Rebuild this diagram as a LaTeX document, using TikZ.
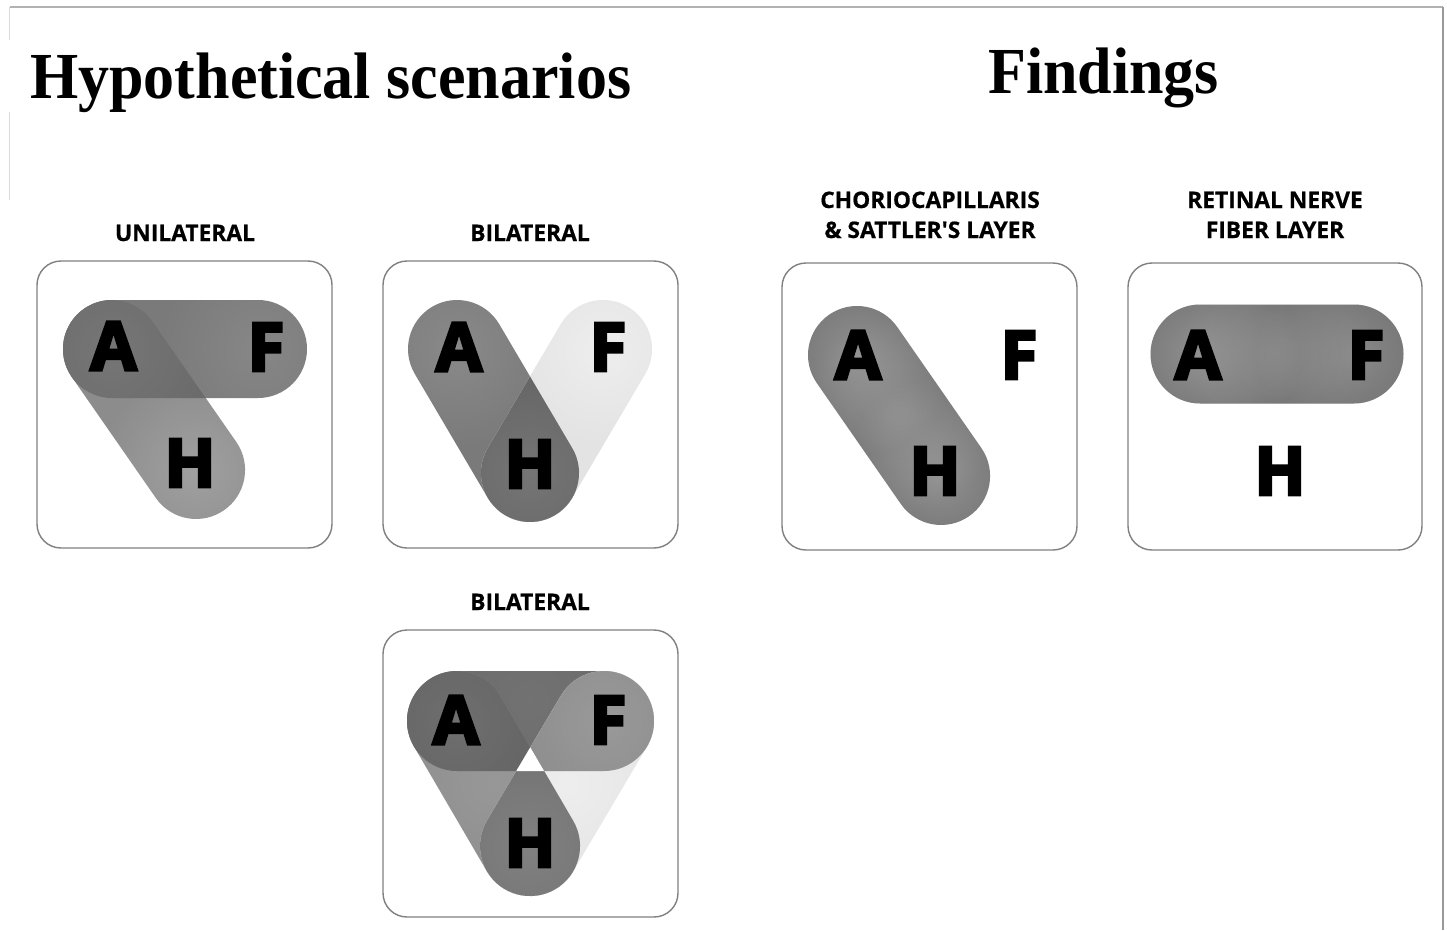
\documentclass[tikz,border=0pt]{standalone}
\usepackage{fontspec}
\usepackage{graphicx}
\setmainfont{Liberation Serif}
\newfontfamily\labfont[FakeBold=0.6]{Open Sans}
\newfontfamily\heavyfont[FakeBold=4.5]{Open Sans}
\usetikzlibrary{fadings}
\tikzfading[name=glowfade, inner color=transparent!0, outer color=transparent!100]
\newcommand\capclip[5]{\clip[shift={(#1,#2)},rotate=#3,rounded corners=#5pt] (-#5,-#5) rectangle (#4+#5,#5);}
\definecolor{frameline}{HTML}{808080}
\begin{document}
\begin{tikzpicture}[x=1pt,y=-1pt,
  hl/.style={fill=white, fill opacity=#1, path fading=glowfade},
  boxframe/.style={draw=frameline, line width=1.4pt, rounded corners=24pt},
  letter/.style={inner sep=0pt, font=\heavyfont\bfseries\fontsize{67}{67}\selectfont},
  lab/.style={inner sep=0pt, anchor=base, font=\labfont\bfseries\fontsize{22.8}{26}\selectfont},
  title/.style={inner sep=0pt, anchor=base west, font=\bfseries\fontsize{62}{70}\selectfont}]
\useasboundingbox (0,0) rectangle (1447,930);
\fill[white] (0,0) rectangle (1447,930);
% page edges
\draw[black!30, line width=1.5pt] (10,7) -- (1443,7);
\draw[black!40, line width=2pt] (1443,7) -- (1443,930);
\draw[black!15, line width=1pt] (9,7) -- (9,40);
\draw[black!15, line width=1pt] (9,112) -- (9,200);
% titles
\node[title] (t1) at (30,98) {\scalebox{1}[1.06]{Hypothetical scenarios}};
\node[title] (t2) at (988,93) {\scalebox{1}[1.06]{Findings}};
% labels
\node[lab] (l1) at (185,241) {UNILATERAL};
\node[lab] (l2) at (530,241) {BILATERAL};
\node[lab] (l3) at (530,610) {BILATERAL};
\node[lab] (l4a) at (930,208) {CHORIOCAPILLARIS};
\node[lab] (l4b) at (930,238) {\& SATTLER'S LAYER};
\node[lab] (l5a) at (1275,208) {RETINAL NERVE};
\node[lab] (l5b) at (1275,238) {FIBER LAYER};
% ---------- box 1 ----------
\begin{scope}
 \capclip{112}{349}{0}{146}{49}
 \fill[black!52] (37,261) rectangle (332,548);
 \fill[hl=0.10] (258,349) circle (100pt);
\end{scope}
\begin{scope}
 \capclip{112}{349}{-55.2}{147.3}{49}
 \fill[black!45] (37,261) rectangle (332,548);
 \fill[hl=0.18] (196,470) circle (100pt);
 \capclip{112}{349}{0}{146}{49}
 \fill[black!58] (37,261) rectangle (332,548);
 \fill[hl=0.08] (112,349) circle (100pt);
\end{scope}
\draw[boxframe] (37,261) rectangle (332,548);
% ---------- box 2 ----------
\begin{scope}
 \capclip{457}{349}{-59.5}{143.9}{49}
 \fill[black!52] (383,261) rectangle (678,548);
 \fill[hl=0.12] (457,349) circle (100pt);
\end{scope}
\begin{scope}
 \capclip{603}{349}{-120.5}{143.9}{49}
 \fill[black!11] (383,261) rectangle (678,548);
 \fill[hl=0.4] (603,349) circle (100pt);
 \capclip{457}{349}{-59.5}{143.9}{49}
 \fill[black!60] (383,261) rectangle (678,548);
 \fill[hl=0.10] (530,473) circle (100pt);
\end{scope}
\draw[boxframe] (383,261) rectangle (678,548);
% ---------- box 3 ----------
\begin{scope}
 \capclip{457}{721}{0}{147}{50}
 \fill[black!58] (383,630) rectangle (678,917);
 \fill[hl=0.05] (530,700) circle (100pt);
\end{scope}
\begin{scope}
 \capclip{457}{721}{-59.7}{144.8}{50}
 \fill[black!44] (383,630) rectangle (678,917);
 \fill[hl=0.08] (493,783) circle (100pt);
 \capclip{457}{721}{0}{147}{50}
 \fill[black!61] (383,630) rectangle (678,917);
 \fill[hl=0.08] (457,721) circle (100pt);
\end{scope}
\begin{scope}
 \capclip{604}{721}{-120.6}{145.3}{50}
 \fill[black!10] (383,630) rectangle (678,917);
 \fill[hl=0.35] (567,783) circle (100pt);
 \begin{scope}
  \capclip{457}{721}{0}{147}{50}
  \fill[black!45] (383,630) rectangle (678,917);
  \fill[hl=0.12] (604,721) circle (100pt);
 \end{scope}
 \begin{scope}
  \capclip{457}{721}{-59.7}{144.8}{50}
  \fill[black!55] (383,630) rectangle (678,917);
  \fill[hl=0.10] (530,846) circle (100pt);
  \capclip{457}{721}{0}{147}{50}
  \fill[white] (383,630) rectangle (678,917);
 \end{scope}
\end{scope}
\draw[boxframe] (383,630) rectangle (678,917);
% ---------- box 4 ----------
\begin{scope}
 \capclip{857}{355}{-55.2}{147.3}{49}
 \fill[black!58] (782,263) rectangle (1077,550);
 \fill[hl=0.15] (899,415) circle (100pt);
 \fill[hl=0.25] (857,355) circle (100pt);
 \fill[hl=0.25] (941,476) circle (100pt);
\end{scope}
\draw[boxframe] (782,263) rectangle (1077,550);
% ---------- box 5 ----------
\begin{scope}
 \capclip{1200}{354}{0}{154}{49.5}
 \fill[black!58] (1128,263) rectangle (1422,550);
 \fill[hl=0.12] (1277,354) circle (100pt);
 \fill[hl=0.25] (1200,354) circle (100pt);
 \fill[hl=0.20] (1354,354) circle (100pt);
\end{scope}
\draw[boxframe] (1128,263) rectangle (1422,550);
% ---------- letters ----------
\node[letter] (a1) at (113.5,346) {A};
\node[letter] (f1) at (266,347) {F};
\node[letter] (h1) at (190,463) {H};
\node[letter] (a2) at (459,347) {A};
\node[letter] (f2) at (608,347) {F};
\node[letter] (h2) at (530,464) {H};
\node[letter] (a3) at (456,720) {A};
\node[letter] (f3) at (608,720) {F};
\node[letter] (h3) at (530,843) {H};
\node[letter] (a4) at (858,355) {A};
\node[letter] (f4) at (1019,355) {F};
\node[letter] (h4) at (935,471) {H};
\node[letter] (a5) at (1198,355) {A};
\node[letter] (f5) at (1366,355) {F};
\node[letter] (h5) at (1280,471) {H};
\end{tikzpicture}
\end{document}
